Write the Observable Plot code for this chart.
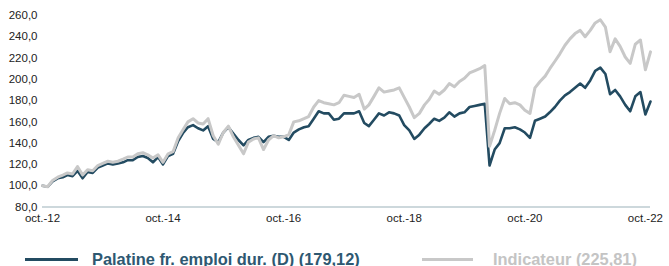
<!DOCTYPE html>
<html>
<head>
<meta charset="utf-8">
<script src="https://cdn.jsdelivr.net/npm/d3@7"></script>
<script src="https://cdn.jsdelivr.net/npm/@observablehq/plot@0.6"></script>
<style>
  html, body { margin: 0; padding: 0; background: #fff; }
  #wrap { position: relative; width: 669px; height: 266px; font-family: "Liberation Sans", Arial, sans-serif; }
  #chart svg { display: block; }
  .leg { position: absolute; top: 249px; height: 20px; display: flex; align-items: center; font-weight: bold; font-size: 16.4px; white-space: nowrap; }
  .sw { display: inline-block; height: 3px; }
</style>
</head>
<body>
<div id="wrap">
  <div id="chart"></div>
  <div class="leg" style="left:25px;color:#2e5871"><span class="sw" style="width:53px;background:#234b61;margin-right:14px"></span><span id="l1"></span></div>
  <div class="leg" style="left:422px;color:#c4c4c4"><span class="sw" style="width:51px;background:#c8c8c8;margin-right:20px"></span><span id="l2"></span></div>
</div>
<script>
const seriesNames = ["Palatine fr. emploi dur. (D) (179,12)", "Indicateur (225,81)"];
const firstMonth = "2012-10-01";
const lastMonth = "2022-11-01";

const palatine = [
  100, 99, 104, 107, 108, 110, 109, 114, 107, 113, 112, 117,
  119, 121, 120, 121, 122, 124, 124, 127, 128, 126, 122, 127,
  120, 128, 130, 142, 150, 155, 157, 154, 152, 156, 144, 141,
  150, 155, 149, 143, 138, 143, 145, 146, 141, 146, 147, 146,
  146, 143, 150, 153, 155, 156, 163, 170, 168, 168, 162, 163,
  168, 168, 168, 170, 159, 156, 162, 168, 166, 169, 168, 166,
  157, 152, 144, 148, 154, 158, 163, 161, 164, 169, 165, 168,
  169, 174, 175, 176, 177, 119, 134, 140, 154, 154, 155, 153,
  150, 145, 161, 163, 165, 169, 174, 180, 185, 188, 192, 196,
  192, 199, 208, 211, 205, 186, 190, 184, 176, 170, 184, 188,
  167, 179.12
];
const indicateur = [
  100, 99, 105, 108, 110, 112, 111, 118, 110, 115, 114, 119,
  121, 123, 122, 123, 125, 127, 127, 130, 131, 129, 126, 129,
  122, 130, 132, 145, 153, 160, 163, 159, 158, 163, 147, 139,
  150, 156, 146, 138, 130, 141, 144, 145, 134, 143, 147, 145,
  146, 148, 160, 161, 163, 165, 174, 180, 178, 177, 176, 178,
  185, 184, 183, 186, 172, 176, 184, 192, 188, 189, 190, 192,
  183, 174, 164, 168, 176, 181, 189, 186, 190, 196, 193, 198,
  201, 206, 208, 210, 213, 137, 152, 168, 182, 177, 178, 176,
  171, 168, 192, 198, 203, 210, 217, 224, 232, 238, 243, 246,
  240, 246, 253, 256, 249, 226, 238, 231, 221, 215, 233, 237,
  209, 225.81
];
const yTicks = [80, 100, 120, 140, 160, 180, 200, 220, 240, 260];
const xTickDates = ["2012-10-01", "2014-10-01", "2016-10-01", "2018-10-01", "2020-10-01", "2022-10-01"];
const xTickLabels = ["oct.-12", "oct.-14", "oct.-16", "oct.-18", "oct.-20", "oct.-22"];

const months = d3.utcMonth.range(new Date(firstMonth), d3.utcDay.offset(new Date(lastMonth), 1));
const dataP = months.map((d, i) => ({date: d, value: palatine[i]}));
const dataI = months.map((d, i) => ({date: d, value: indicateur[i]}));
const xTicks = xTickDates.map(s => new Date(s));
const labelOf = new Map(xTicks.map((d, i) => [+d, xTickLabels[i]]));

const chart = Plot.plot({
  width: 669,
  height: 225,
  marginLeft: 42,
  marginRight: 19,
  marginTop: 15,
  marginBottom: 18.5,
  style: {fontFamily: "'Liberation Sans', Arial, sans-serif", fontSize: "11.5px", color: "#222", background: "#fff"},
  x: {type: "utc", domain: [months[0], months[months.length - 1]]},
  y: {domain: [80, 260]},
  marks: [
    Plot.ruleY([80], {stroke: "#cdd8dc", strokeWidth: 2}),
    Plot.axisY({ticks: yTicks, tickSize: 0, tickPadding: 5, tickFormat: d => d.toFixed(1).replace(".", ","), label: null}),
    Plot.axisX({ticks: xTicks, tickSize: 0, tickPadding: 6.5, tickFormat: d => labelOf.get(+d), label: null}),
    Plot.lineY(dataP, {x: "date", y: "value", stroke: "#234b61", strokeWidth: 2.6, strokeLinejoin: "round"}),
    Plot.lineY(dataI, {x: "date", y: "value", stroke: "#c8c8c8", strokeWidth: 3, strokeLinejoin: "round"})
  ]
});
document.getElementById("chart").appendChild(chart);
document.getElementById("l1").textContent = seriesNames[0];
document.getElementById("l2").textContent = seriesNames[1];
</script>
</body>
</html>
